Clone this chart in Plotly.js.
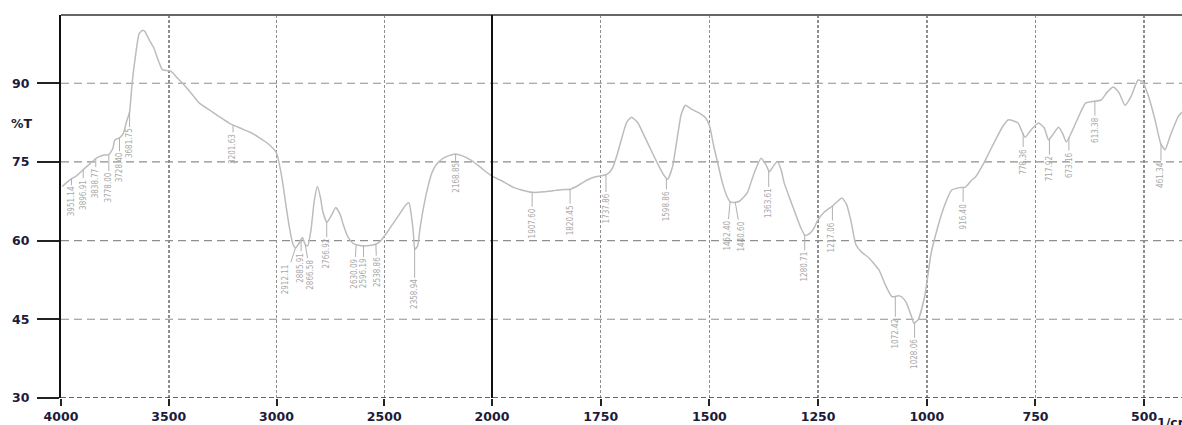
<!DOCTYPE html>
<html>
<head>
<meta charset="utf-8">
<script src="https://cdn.plot.ly/plotly-3.0.1.min.js"></script>
<style>html,body{margin:0;padding:0;background:#fff;}#chart{width:1182px;height:425px;}</style>
</head>
<body>
<div id="chart"></div>
<script>
// Wavenumber (1/cm) and transmittance (%T)
const wavenumber = [
  3995,3970,3951,3930,3900,3870,3840,3823,3800,3778,3760,3750,3728,3710,3698,3682,3670,3655,3637,3620,
  3610,3590,3570,3550,3530,3510,3490,3460,3420,3390,3358,3300,3265,3220,3172,3120,3079,3040,3000,2975,
  2955,2940,2925,2912,2895,2880,2866,2855,2840,2825,2810,2795,2785,2766,2745,2725,2705,2690,2670,2645,
  2620,2580,2540,2520,2490,2460,2430,2400,2385,2375,2365,2358,2345,2335,2320,2300,2280,2260,2230,2200,
  2170,2140,2100,2060,2040,2000,
  1980,1952,1930,1907,1880,1860,1840,1820,1800,1782,1760,1740,1730,1722,1710,1700,1690,1679,1665,1650,
  1631,1615,1605,1596,1585,1575,1565,1555,1540,1523,1510,1500,1490,1484,1470,1460,1452,1440,1431,1413,
  1397,1381,1370,1362,1352,1344,1335,1328,1315,1305,1290,1280,1270,1260,1250,1235,1217,1205,1195,1185,
  1175,1163,1150,1133,1110,1095,1080,1065,1058,1048,1035,1030,1020,1005,990,975,960,943,925,911,
  897,888,874,865,842,825,813,800,790,774,760,743,730,720,710,697,688,679,665,651,
  635,620,599,585,571,558,544,530,514,502,498,490,475,462,452,440,422,413
];
const transmittance = [
  70.3,71.2,71.8,72.3,73.4,74.5,75.6,76.0,76.3,76.4,77.5,79.2,79.6,80.5,82.4,84.5,90.0,95.0,99.5,100.1,
  99.8,98.2,96.8,94.5,92.6,92.4,92.3,91.0,89.3,87.8,86.2,84.6,83.6,82.4,81.5,80.6,79.6,78.5,76.7,72.0,
  66.4,62.5,59.5,58.6,59.5,60.6,59.2,59.0,62.0,67.5,70.3,68.0,65.5,63.5,64.8,66.3,65.0,63.0,60.8,59.5,
  59.1,59.0,59.3,59.8,61.4,63.2,65.0,66.8,67.2,65.0,61.5,58.3,59.0,62.0,65.8,69.8,72.8,74.4,75.6,76.2,
  76.5,76.2,75.4,74.2,73.5,72.3,
  71.5,70.2,69.6,69.2,69.3,69.5,69.7,69.8,70.6,71.5,72.2,72.5,73.0,74.0,77.0,80.0,82.6,83.5,82.5,80.0,
  76.7,74.0,72.5,71.7,74.0,79.0,84.0,85.8,85.0,84.3,83.5,82.0,78.0,75.9,71.0,68.5,67.4,67.3,67.5,69.1,
  72.9,75.7,74.5,73.1,74.3,75.1,73.5,71.0,68.0,65.8,62.5,61.0,61.3,62.3,64.0,65.5,66.6,67.5,68.1,67.0,
  64.0,59.2,57.8,56.7,54.4,51.5,49.3,49.5,49.3,48.3,45.5,44.3,44.9,49.3,57.6,62.5,66.5,69.6,70.1,70.2,
  71.5,72.1,74.0,75.4,79.2,81.8,83.0,82.8,82.4,79.7,81.1,82.4,81.5,79.2,80.2,81.6,80.5,78.8,81.0,83.6,
  86.2,86.5,86.8,88.3,89.3,88.2,85.8,87.5,90.6,90.2,89.3,87.5,83.0,78.5,77.3,80.0,83.6,84.5
];
// Peak labels printed on the spectrum
const peakLabels = [
  "3951.14","3896.91","3838.77","3778.00","3728.40","3681.75","3201.63",
  "2912.11","2885.91","2866.58","2766.92","2630.09","2596.19","2538.86","2358.94","2168.85",
  "1907.60","1820.45","1737.86","1598.86","1452.40","1440.60","1363.61","1280.71","1217.06",
  "1072.42","1028.06","916.40","778.36","717.92","673.16","613.38","461.34"
];
const leftTicks = [4000,3500,3000,2500];
const rightTicks = [2000,1750,1500,1250,1000,750,500];
const yTicks = [30,45,60,75,90];
const yGrid = [45,60,75,90];

// split at the 2000 scale change
const leftX=[],leftY=[],rightX=[],rightY=[];
wavenumber.forEach((w,i)=>{
  if(w>=2000){leftX.push(w);leftY.push(transmittance[i]);}
  if(w<=2000){rightX.push(w);rightY.push(transmittance[i]);}
});

function curveAt(w){
  for(let i=0;i<wavenumber.length-1;i++){
    const a=wavenumber[i],b=wavenumber[i+1];
    if(w<=a&&w>=b){const t=(a-w)/(a-b);return transmittance[i]+t*(transmittance[i+1]-transmittance[i]);}
  }
  return transmittance[transmittance.length-1];
}

// label leader offsets (px): [ax, ay]
const labelOffsets = [
  [0,23],[0,25],[0,25],[0,33],[0,30],[0,32],[0,24],
  [-10,31],[0,28],[5,30],[0,32],[-2,29],[0,28],[1,28],[0,47],[0,24],
  [0,31],[0,31],[0,34],[0,28],[-3,34],[6,34],[0,33],[0,32],[0,31],
  [0,37],[0,32],[0,29],[0,28],[0,30],[0,28],[0,29],[0,31]
];

const lineStyle={color:'#bcbcbc',width:1.5,shape:'spline',smoothing:0.5};
const data=[
  {x:leftX,y:leftY,xaxis:'x',yaxis:'y',type:'scatter',mode:'lines',line:lineStyle,hoverinfo:'skip'},
  {x:rightX,y:rightY,xaxis:'x2',yaxis:'y',type:'scatter',mode:'lines',line:lineStyle,hoverinfo:'skip'}
];

const d1=(492-61)/1121;
const tickFont={family:'DejaVu Sans, Verdana, sans-serif',size:12.5,color:'#1c1c3a',weight:'bold'};
const gridCol='#8e8e8e';
const xCommon={ticks:'outside',ticklen:7,tickwidth:2,tickcolor:'#222',showgrid:true,gridcolor:gridCol,
  gridwidth:1.5,griddash:'3px,2px',zeroline:false,showline:false,tickfont:tickFont,anchor:'y',fixedrange:true};

const annotations=peakLabels.map((t,i)=>{
  const w=parseFloat(t);
  return {x:w,y:curveAt(w),xref:w>=2000?'x':'x2',yref:'y',text:t,textangle:-90,
    showarrow:true,arrowhead:0,arrowwidth:1,arrowcolor:'#b0b0b0',standoff:0,
    ax:labelOffsets[i][0],ay:labelOffsets[i][1],
    font:{family:'Liberation Sans Narrow, DejaVu Sans Condensed, sans-serif',size:8,color:'#a8a8a8'}};
});
annotations.push({xref:'paper',yref:'paper',x:-0.035,y:1-(124-15)/383,xanchor:'center',yanchor:'middle',
  showarrow:false,text:'%T',font:tickFont});
annotations.push({xref:'paper',yref:'paper',x:(1155-61)/1121,y:0,yshift:-24,xanchor:'left',yanchor:'middle',
  showarrow:false,text:'1/cm',font:tickFont});

const shapes=yGrid.map(v=>({type:'line',xref:'paper',yref:'y',x0:0,x1:1,y0:v,y1:v,layer:'below',
  line:{color:gridCol,width:1.1,dash:'8px,5px'}}));
shapes.push({type:'line',xref:'paper',yref:'paper',x0:0,x1:1,y0:1,y1:1,line:{color:'#666',width:2}});
shapes.push({type:'line',xref:'paper',yref:'y',x0:0,x1:1,y0:30,y1:30,line:{color:'#333',width:1.5,dash:'5px,3px'}});
shapes.push({type:'line',xref:'paper',yref:'paper',x0:d1,x1:d1,y0:0,y1:1,line:{color:'#111',width:2}});

const layout={
  width:1182,height:425,
  margin:{l:61,r:0,t:15,b:27,pad:0},
  paper_bgcolor:'#ffffff',plot_bgcolor:'#ffffff',
  showlegend:false,
  xaxis:Object.assign({},xCommon,{domain:[0,d1],range:[4000,2000],tickvals:leftTicks}),
  xaxis2:Object.assign({},xCommon,{domain:[d1,1],range:[2000,413],tickvals:rightTicks}),
  yaxis:{range:[30,103],tickvals:yTicks,ticks:'outside',ticklen:22,tickwidth:2,tickcolor:'#222',
    showline:true,linecolor:'#111',linewidth:2,showgrid:false,ticklabelstandoff:5,
    zeroline:false,tickfont:tickFont,fixedrange:true},
  shapes:shapes,
  annotations:annotations
};
Plotly.newPlot('chart',data,layout,{staticPlot:true,displayModeBar:false});
</script>
</body>
</html>
